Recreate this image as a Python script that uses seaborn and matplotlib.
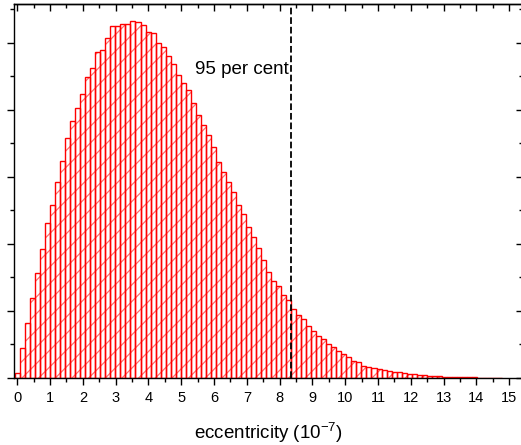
import numpy as np
import pandas as pd
import matplotlib
matplotlib.use("Agg")
import matplotlib.pyplot as plt
import seaborn as sns
from matplotlib.ticker import MultipleLocator, NullFormatter

# ---- data ----
counts = [79, 443, 825, 1190, 1563, 1921, 2318, 2582, 2925, 3243,
          3578, 3840, 4025, 4234, 4488, 4631, 4870, 4891, 5070, 5254,
          5254, 5284, 5284, 5333, 5313, 5269, 5169, 5145, 4996, 4945,
          4806, 4687, 4522, 4399, 4299, 4109, 3925, 3776, 3627, 3443,
          3228, 3079, 2930, 2781, 2582, 2448, 2258, 2109, 1936, 1761,
          1587, 1452, 1373, 1239, 1164, 1025, 940, 876, 776, 701,
          627, 578, 507, 467, 407, 358, 318, 258, 234, 184,
          169, 154, 134, 119, 104, 94, 90, 75, 60, 60,
          40, 40, 30, 30, 25, 20, 20, 15, 15, 10,
          10, 8, 7, 5, 5, 3, 3]
bin_start = -0.07
bin_width = 0.1531
percentile95 = 8.35
x_ticks = list(range(0, 16))
annotation = "95 per cent"
xlabel = r"eccentricity (10$^{-7}$)"

edges = [float(e) for e in bin_start + bin_width * np.arange(len(counts) + 1)]
centers = [(edges[i] + edges[i + 1]) / 2 for i in range(len(counts))]
df = pd.DataFrame({"ecc": centers, "n": counts})

plt.rcParams["font.family"] = ["Liberation Sans", "DejaVu Sans"]
plt.rcParams["mathtext.default"] = "regular"
plt.rcParams["hatch.linewidth"] = 0.9

W, H = 521, 445
fig = plt.figure(figsize=(W / 100, H / 100), dpi=100)
ax = fig.add_axes([14 / W, 1 - 378 / H, 509 / W, 374 / H])

# hatch layer (light red diagonals)
sns.histplot(data=df, x="ecc", weights="n", bins=edges, ax=ax,
             element="bars", fill=True, facecolor="white",
             edgecolor="#ff6e6e", hatch="//", linewidth=0, alpha=1)
# outline layer
sns.histplot(data=df, x="ecc", weights="n", bins=edges, ax=ax,
             element="bars", fill=False, color="red", edgecolor="red",
             linewidth=1.0)

ax.axvline(percentile95, color="black", ls="--", lw=1.3)
ax.text(percentile95 - 0.07, 4600, annotation, ha="right", va="center",
        fontsize=13.5, color="black")

ax.set_xlim(-0.1, 15.42)
ax.set_ylim(0, 5582)
ax.set_xticks(x_ticks)
ax.set_xticklabels([str(t) for t in x_ticks], fontsize=10.5)
ax.xaxis.set_minor_locator(MultipleLocator(0.5))
ax.yaxis.set_major_locator(MultipleLocator(1000))
ax.yaxis.set_minor_locator(MultipleLocator(500))
ax.yaxis.set_major_formatter(NullFormatter())
ax.set_ylabel("")
ax.set_xlabel(xlabel, fontsize=13.5, labelpad=12)

for s in ax.spines.values():
    s.set_linewidth(1.0)
    s.set_color("black")

ax.tick_params(axis="x", which="major", direction="out", length=5, width=1,
               pad=4, top=False)
ax.tick_params(axis="x", which="minor", direction="out", length=3, width=1,
               top=False)
ax.tick_params(axis="y", which="major", direction="out", length=5, width=1,
               right=False)
ax.tick_params(axis="y", which="minor", direction="out", length=3, width=1,
               right=False)

top = ax.secondary_xaxis("top")
top.set_xticks(x_ticks)
top.xaxis.set_minor_locator(MultipleLocator(0.5))
top.xaxis.set_major_formatter(NullFormatter())
top.tick_params(which="major", direction="in", length=5, width=1)
top.tick_params(which="minor", direction="in", length=3, width=1)
top.spines["top"].set_linewidth(1.0)

right = ax.secondary_yaxis("right")
right.yaxis.set_major_locator(MultipleLocator(1000))
right.yaxis.set_minor_locator(MultipleLocator(500))
right.yaxis.set_major_formatter(NullFormatter())
right.tick_params(which="major", direction="in", length=5, width=1)
right.tick_params(which="minor", direction="in", length=3, width=1)

fig.savefig("out.png", dpi=100)
